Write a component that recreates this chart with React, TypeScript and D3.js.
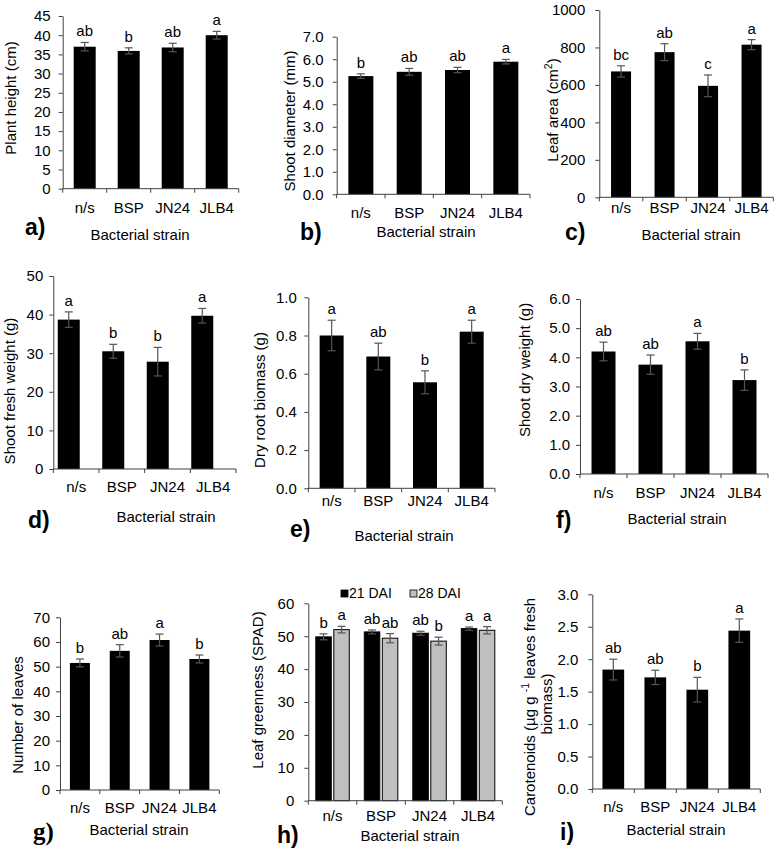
import { useEffect, useRef } from 'react';
import * as d3 from 'd3';

const FONT = '"Liberation Sans", Arial, sans-serif';
const SERIF = '"Liberation Serif", "Times New Roman", serif';

const STRAINS = ['n/s', 'BSP', 'JN24', 'JLB4'];

// a) plant height (cm)
const plantHeight = [37.0, 35.9, 36.8, 40.0];
const plantHeightErr = [1.1, 0.8, 1.1, 1.0];
const plantHeightSig = ['ab', 'b', 'ab', 'a'];

// b) shoot diameter (mm)
const shootDiameter = [5.25, 5.44, 5.52, 5.89];
const shootDiameterErr = [0.1, 0.15, 0.12, 0.1];
const shootDiameterSig = ['b', 'ab', 'ab', 'a'];

// c) leaf area (cm2)
const leafArea = [672, 775, 595, 815];
const leafAreaErr = [30, 45, 58, 27];
const leafAreaSig = ['bc', 'ab', 'c', 'a'];

// d) shoot fresh weight (g)
const shootFresh = [38.7, 30.5, 27.8, 39.7];
const shootFreshErr = [2.0, 1.8, 3.7, 1.9];
const shootFreshSig = ['a', 'b', 'b', 'a'];

// e) dry root biomass (g)
const dryRoot = [0.8, 0.69, 0.555, 0.82];
const dryRootErr = [0.08, 0.07, 0.06, 0.06];
const dryRootSig = ['a', 'ab', 'b', 'a'];

// f) shoot dry weight (g)
const shootDry = [4.2, 3.75, 4.55, 3.22];
const shootDryErr = [0.32, 0.33, 0.27, 0.35];
const shootDrySig = ['ab', 'ab', 'a', 'b'];

// g) number of leaves
const leaves = [51.5, 56.4, 60.8, 53.1];
const leavesErr = [1.6, 2.5, 2.4, 1.6];
const leavesSig = ['b', 'ab', 'a', 'b'];

// h) leaf greenness (SPAD), two sampling dates
const DATES = ['21 DAI', '28 DAI'];
const spad21 = [49.8, 51.3, 50.9, 52.3];
const spad21Err = [0.9, 0.6, 0.6, 0.5];
const spad21Sig = ['b', 'ab', 'ab', 'a'];
const spad28 = [52.0, 49.4, 48.5, 51.8];
const spad28Err = [1.0, 1.4, 1.2, 1.1];
const spad28Sig = ['a', 'ab', 'b', 'a'];

// i) carotenoids
const carotenoids = [1.84, 1.72, 1.53, 2.44];
const carotenoidsErr = [0.16, 0.11, 0.19, 0.18];
const carotenoidsSig = ['ab', 'ab', 'b', 'a'];

interface Series { values: number[]; errors: number[]; letters: string[]; fill: string; stroke?: string }
interface PanelSpec {
  tag: string; tagPos: [number, number]; tagSerif?: boolean;
  yTitle: string[]; titlePos: [number, number][];
  yMax: number; yStep: number; decimals: number; tickGap: number;
  x0: number; x1: number; yTop: number; yBottom: number;
  barW: number; barGap?: number; barRange?: [number, number];
  catY: number; xTitlePos: [number, number];
  series: Series[];
}

const black = (values: number[], errors: number[], letters: string[]): Series => ({ values, errors, letters, fill: '#000' });

const PANELS: PanelSpec[] = [
  {
    tag: 'a)', tagPos: [25, 235], yTitle: ['Plant height (cm)'], titlePos: [[11, 98]],
    yMax: 45, yStep: 5, decimals: 0, tickGap: 12,
    x0: 62.7, x1: 238.7, yTop: 16, yBottom: 188.7, barW: 22,
    catY: 213, xTitlePos: [140, 240], series: [black(plantHeight, plantHeightErr, plantHeightSig)],
  },
  {
    tag: 'b)', tagPos: [300, 240], yTitle: ['Shoot diameter (mm)'], titlePos: [[290, 121]],
    yMax: 7, yStep: 1, decimals: 1, tickGap: 13,
    x0: 336.7, x1: 530, yTop: 36.7, yBottom: 194.3, barW: 25,
    catY: 218, xTitlePos: [426, 237], series: [black(shootDiameter, shootDiameterErr, shootDiameterSig)],
  },
  {
    tag: 'c)', tagPos: [565, 240], yTitle: ['Leaf area (cm^{2})'], titlePos: [[553, 110]],
    yMax: 1000, yStep: 200, decimals: 0, tickGap: 14,
    x0: 599.3, x1: 773.3, yTop: 10, yBottom: 197.3, barW: 20,
    catY: 213, xTitlePos: [691, 240], series: [black(leafArea, leafAreaErr, leafAreaSig)],
  },
  {
    tag: 'd)', tagPos: [28, 528], yTitle: ['Shoot fresh weight (g)'], titlePos: [[10, 391]],
    yMax: 50, yStep: 10, decimals: 0, tickGap: 10,
    x0: 53.3, x1: 236, yTop: 276, yBottom: 469, barW: 22, barRange: [46.5, 224.5],
    catY: 492, xTitlePos: [166, 522], series: [black(shootFresh, shootFreshErr, shootFreshSig)],
  },
  {
    tag: 'e)', tagPos: [290, 537], yTitle: ['Dry root biomass (g)'], titlePos: [[260, 400]],
    yMax: 1, yStep: 0.2, decimals: 1, tickGap: 11.5,
    x0: 308.3, x1: 495, yTop: 297.3, yBottom: 488.3, barW: 24,
    catY: 506, xTitlePos: [404, 541], series: [black(dryRoot, dryRootErr, dryRootSig)],
  },
  {
    tag: 'f)', tagPos: [556, 528], yTitle: ['Shoot dry weight (g)'], titlePos: [[525, 370]],
    yMax: 6, yStep: 1, decimals: 1, tickGap: 10,
    x0: 580, x1: 768, yTop: 299, yBottom: 474, barW: 24,
    catY: 498, xTitlePos: [677, 524], series: [black(shootDry, shootDryErr, shootDrySig)],
  },
  {
    tag: 'g)', tagPos: [33, 840], tagSerif: true, yTitle: ['Number of leaves'], titlePos: [[18, 715]],
    yMax: 70, yStep: 10, decimals: 0, tickGap: 10,
    x0: 60, x1: 219.3, yTop: 617.3, yBottom: 790, barW: 20,
    catY: 813, xTitlePos: [139, 835], series: [black(leaves, leavesErr, leavesSig)],
  },
  {
    tag: 'h)', tagPos: [277, 843], yTitle: ['Leaf greenness (SPAD)'], titlePos: [[258, 690]],
    yMax: 60, yStep: 10, decimals: 0, tickGap: 14,
    x0: 308.3, x1: 502.3, yTop: 603.3, yBottom: 800.7, barW: 15.5, barGap: 2.5,
    catY: 821, xTitlePos: [410, 841],
    series: [
      { values: spad21, errors: spad21Err, letters: spad21Sig, fill: '#000', stroke: '#000' },
      { values: spad28, errors: spad28Err, letters: spad28Sig, fill: '#bfbfbf', stroke: '#000' },
    ],
  },
  {
    tag: 'i)', tagPos: [560, 840],
    yTitle: ['Carotenoids (µg g ^{-1} leaves fresh', 'biomass)'], titlePos: [[530, 707], [547, 704]],
    yMax: 3, yStep: 0.5, decimals: 1, tickGap: 14,
    x0: 592.3, x1: 760.3, yTop: 594.3, yBottom: 789, barW: 21.7,
    catY: 812, xTitlePos: [676, 835], series: [black(carotenoids, carotenoidsErr, carotenoidsSig)],
  },
];

const AXIS = '#404040';
const ERR = '#555';

// text with ^{...} superscripts
function richText(text: d3.Selection<SVGTextElement, unknown, null, undefined>, str: string, size: number) {
  const parts = str.split(/\^\{(.*?)\}/);
  const shift = size * 0.4;
  let raised = false;
  parts.forEach((s, i) => {
    if (!s) return;
    const t = text.append('tspan').text(s);
    if (i % 2 === 1) {
      t.attr('dy', -shift).attr('font-size', size * 0.7);
      raised = true;
    } else if (raised) {
      t.attr('dy', shift);
      raised = false;
    }
  });
}

function drawPanel(svg: d3.Selection<SVGSVGElement, unknown, null, undefined>, p: PanelSpec) {
  const g = svg.append('g').attr('font-family', FONT).attr('fill', '#000');
  const y = d3.scaleLinear().domain([0, p.yMax]).range([p.yBottom, p.yTop]);
  const xAxis = d3.scaleBand<string>().domain(STRAINS).range([p.x0, p.x1]);
  const xBar = d3.scaleBand<string>().domain(STRAINS).range(p.barRange ?? [p.x0, p.x1]);
  const n = p.series.length;
  const gap = p.barGap ?? 0;
  const groupW = n * p.barW + (n - 1) * gap;
  const barX = (c: string, si: number) => xBar(c)! + xBar.bandwidth() / 2 - groupW / 2 + si * (p.barW + gap);

  p.series.forEach((s, si) => {
    const rows = STRAINS.map((c, i) => ({ c, v: s.values[i], e: s.errors[i], l: s.letters[i] }));
    const cx = (d: typeof rows[0]) => barX(d.c, si) + p.barW / 2;

    g.append('g').selectAll('rect').data(rows).join('rect')
      .attr('x', (d) => barX(d.c, si)).attr('width', p.barW)
      .attr('y', (d) => y(d.v)).attr('height', (d) => y(0) - y(d.v))
      .attr('fill', s.fill).attr('stroke', s.stroke ?? 'none').attr('stroke-width', 1);

    const eg = g.append('g').attr('stroke', ERR).attr('stroke-width', 1.2);
    eg.selectAll('line.stem').data(rows).join('line').attr('class', 'stem')
      .attr('x1', cx).attr('x2', cx).attr('y1', (d) => y(d.v - d.e)).attr('y2', (d) => y(d.v + d.e));
    [1, -1].forEach((sign) => {
      eg.selectAll(`line.cap${sign}`).data(rows).join('line').attr('class', `cap${sign}`)
        .attr('x1', (d) => cx(d) - 4).attr('x2', (d) => cx(d) + 4)
        .attr('y1', (d) => y(d.v + sign * d.e)).attr('y2', (d) => y(d.v + sign * d.e));
    });

    g.append('g').selectAll('text').data(rows).join('text')
      .attr('x', cx).attr('y', (d) => y(d.v + d.e) - 6)
      .attr('text-anchor', 'middle').attr('font-size', 15).text((d) => d.l);
  });

  // y axis
  const ticks = d3.range(0, p.yMax + p.yStep / 2, p.yStep);
  g.append('g').attr('transform', `translate(${p.x0},0)`)
    .call(d3.axisLeft(y).tickValues(ticks).tickSize(4).tickSizeOuter(0).tickPadding(p.tickGap - 4)
      .tickFormat((d) => d3.format(`.${p.decimals}f`)(d as number)))
    .call((a) => {
      a.select('.domain').attr('stroke', AXIS);
      a.selectAll('.tick line').attr('stroke', AXIS);
      a.selectAll('.tick text').attr('font-size', 15).attr('font-family', FONT).attr('fill', '#000');
    });

  // x axis with ticks at the category boundaries
  g.append('line').attr('x1', p.x0).attr('x2', p.x1).attr('y1', p.yBottom).attr('y2', p.yBottom)
    .attr('stroke', AXIS);
  const bounds = d3.range(STRAINS.length + 1).map((i) => p.x0 + i * xAxis.step());
  g.selectAll('line.xtick').data(bounds).join('line').attr('class', 'xtick')
    .attr('x1', (d) => d).attr('x2', (d) => d).attr('y1', p.yBottom).attr('y2', p.yBottom + 4)
    .attr('stroke', AXIS);
  g.selectAll('text.cat').data(STRAINS).join('text').attr('class', 'cat')
    .attr('x', (d) => xAxis(d)! + xAxis.bandwidth() / 2).attr('y', p.catY)
    .attr('text-anchor', 'middle').attr('font-size', 15).text((d) => d);

  // axis titles
  p.yTitle.forEach((line, i) => {
    const t = g.append('text')
      .attr('transform', `translate(${p.titlePos[i][0]},${p.titlePos[i][1]}) rotate(-90)`)
      .attr('text-anchor', 'middle').attr('dy', '0.35em').attr('font-size', 15);
    richText(t, line, 15);
  });
  g.append('text').attr('x', p.xTitlePos[0]).attr('y', p.xTitlePos[1])
    .attr('text-anchor', 'middle').attr('font-size', 15).text('Bacterial strain');

  // panel tag
  g.append('text').attr('x', p.tagPos[0]).attr('y', p.tagPos[1])
    .attr('font-family', p.tagSerif ? SERIF : FONT).attr('font-weight', 700)
    .attr('font-size', p.tagSerif ? 25 : 23).text(p.tag);
}

export default function App() {
  const svgRef = useRef<SVGSVGElement>(null);

  useEffect(() => {
    if (!svgRef.current) return;
    const svg = d3.select(svgRef.current);
    svg.selectAll('*').remove();
    svg.append('rect').attr('width', 777).attr('height', 851).attr('fill', '#fff');
    PANELS.forEach((p) => drawPanel(svg, p));

    // legend for panel h
    const fills = [PANELS[7].series[0].fill, PANELS[7].series[1].fill];
    const lg = svg.append('g').attr('font-family', FONT);
    lg.selectAll('rect').data(DATES).join('rect')
      .attr('x', (_, i) => 341 + i * 69).attr('y', 590).attr('width', 7).attr('height', 7)
      .attr('fill', (_, i) => fills[i]).attr('stroke', '#000').attr('stroke-width', 0.8);
    lg.selectAll('text').data(DATES).join('text')
      .attr('x', (_, i) => 349 + i * 69).attr('y', 598).attr('font-size', 14).text((d) => d);
  }, []);

  return (
    <svg ref={svgRef} width={777} height={851} viewBox="0 0 777 851"
      style={{ position: 'absolute', left: 0, top: 0, display: 'block' }} />
  );
}
